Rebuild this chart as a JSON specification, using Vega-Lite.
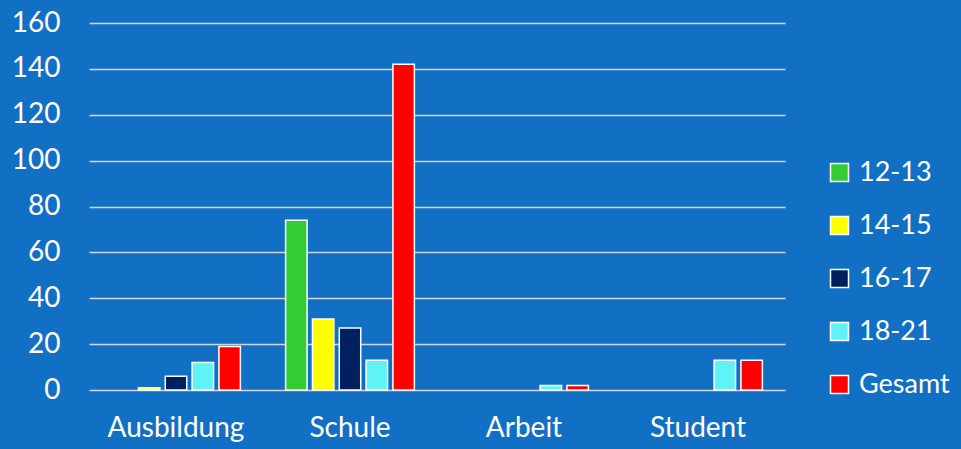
{
  "$schema": "https://vega.github.io/schema/vega-lite/v6.json",
  "width": 696,
  "height": 367,
  "autosize": {"type": "none"},
  "padding": {"left": 89, "top": 23, "right": 176, "bottom": 59},
  "background": "#1270c4",
  "config": {
    "view": {"stroke": null},
    "font": "Lato",
    "axis": {"domain": false, "ticks": false, "labelColor": "white", "labelFont": "Lato", "labelFontSize": 28, "title": null},
    "legend": {"labelColor": "white", "labelFont": "Lato", "labelFontSize": 27}
  },
  "data": {
    "values": [
      {"cat": "Ausbildung", "group": "14-15", "value": 1},
      {"cat": "Ausbildung", "group": "16-17", "value": 6},
      {"cat": "Ausbildung", "group": "18-21", "value": 12},
      {"cat": "Ausbildung", "group": "Gesamt", "value": 19},
      {"cat": "Schule", "group": "12-13", "value": 74},
      {"cat": "Schule", "group": "14-15", "value": 31},
      {"cat": "Schule", "group": "16-17", "value": 27},
      {"cat": "Schule", "group": "18-21", "value": 13},
      {"cat": "Schule", "group": "Gesamt", "value": 142},
      {"cat": "Arbeit", "group": "18-21", "value": 2},
      {"cat": "Arbeit", "group": "Gesamt", "value": 2},
      {"cat": "Student", "group": "18-21", "value": 13},
      {"cat": "Student", "group": "Gesamt", "value": 13}
    ]
  },
  "mark": {"type": "bar", "stroke": "white", "strokeWidth": 1.5},
  "encoding": {
    "x": {
      "field": "cat", "type": "nominal",
      "sort": ["Ausbildung", "Schule", "Arbeit", "Student"],
      "scale": {"paddingInner": 0.26, "paddingOuter": 0.13},
      "axis": {"labelAngle": 0, "labelPadding": 24, "grid": false}
    },
    "xOffset": {
      "field": "group", "type": "nominal",
      "scale": {"domain": ["12-13", "14-15", "16-17", "18-21", "Gesamt"], "paddingInner": 0.2, "paddingOuter": 0}
    },
    "y": {
      "field": "value", "type": "quantitative",
      "scale": {"domain": [0, 160], "nice": false},
      "axis": {"values": [0, 20, 40, 60, 80, 100, 120, 140, 160], "labelPadding": 29, "grid": true, "gridColor": "#d2d5da", "gridWidth": 1.5}
    },
    "color": {
      "field": "group", "type": "nominal",
      "scale": {"domain": ["12-13", "14-15", "16-17", "18-21", "Gesamt"], "range": ["#33cc33", "#ffff00", "#002060", "#5ff2f7", "#ff0000"]},
      "legend": {
        "title": null, "orient": "none", "legendX": 737, "legendY": 136,
        "symbolType": "square", "symbolSize": 324, "symbolStrokeColor": "white", "symbolStrokeWidth": 1.5,
        "symbolOpacity": 1, "rowPadding": 25, "labelOffset": 6, "padding": 0
      }
    }
  }
}
